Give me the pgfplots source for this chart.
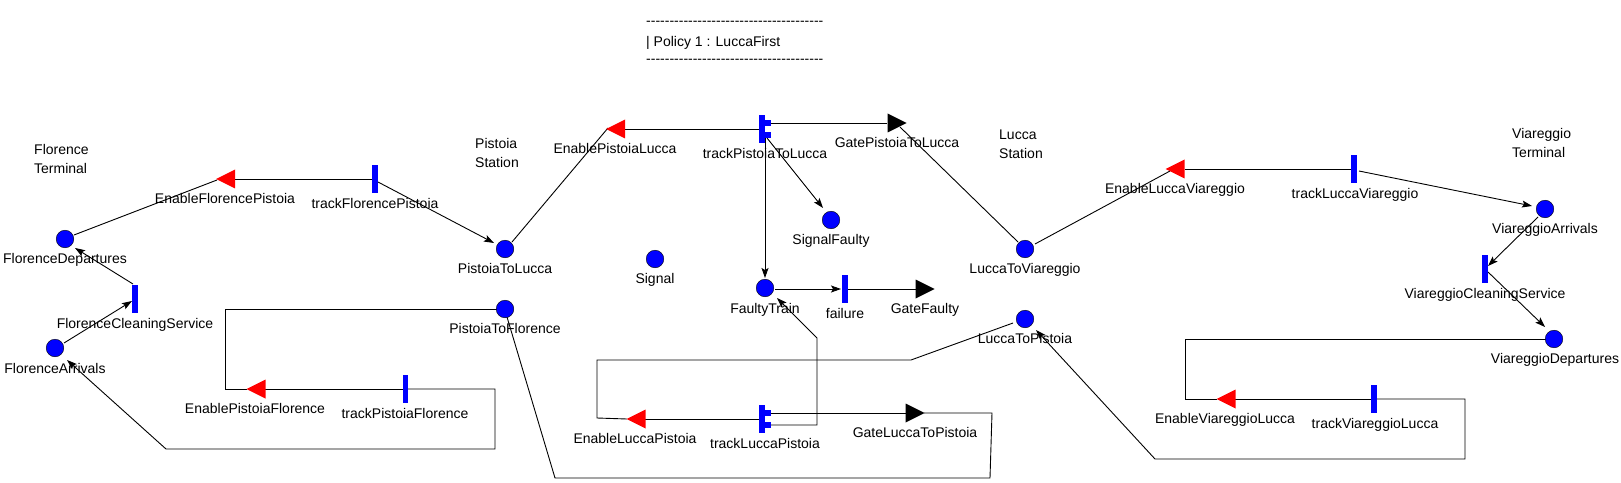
\documentclass[border=0pt]{standalone}
\usepackage{fontspec}
\setmainfont{Liberation Sans}
\usepackage{pgfplots}
\pgfplotsset{compat=1.18}
\usepackage{pgfplotstable}
\usetikzlibrary{arrows.meta}
\definecolor{pnblue}{RGB}{0,0,255}
\definecolor{pnred}{RGB}{255,0,0}
\pgfdeclareplotmark{tbar}{\pgfpathrectangle{\pgfpoint{-2.75bp}{-14bp}}{\pgfpoint{5.5bp}{28bp}}\pgfusepathqfill}
\pgfdeclareplotmark{ltri}{\pgfpathmoveto{\pgfpoint{-9.5bp}{0bp}}\pgfpathlineto{\pgfpoint{9.5bp}{9.5bp}}\pgfpathlineto{\pgfpoint{9.5bp}{-9.5bp}}\pgfpathclose\pgfusepathqfill}
\pgfdeclareplotmark{rtri}{\pgfpathmoveto{\pgfpoint{9.5bp}{0bp}}\pgfpathlineto{\pgfpoint{-9.5bp}{9.5bp}}\pgfpathlineto{\pgfpoint{-9.5bp}{-9.5bp}}\pgfpathclose\pgfusepathqfill}
\pgfdeclareplotmark{sqm}{\pgfpathrectangle{\pgfpoint{-2.6bp}{-2.6bp}}{\pgfpoint{5.2bp}{5.2bp}}\pgfusepathqfill}
\tikzset{
  lbl0/.style={font=\fontsize{14bp}{16bp}\selectfont, inner sep=0pt, anchor=mid west},
  lbl/.style={font=\fontsize{14bp}{16bp}\selectfont, inner sep=0pt, anchor=mid, yshift=-2.5bp},
  lblw/.style={lbl, anchor=mid west},
}
\newcommand\dashrule{\foreach \i in {1,...,38}{-\kern0pt}}

% places
\pgfplotstableread{
x y
65 239
55 348
505 249
505 309
655 259
831 220
765 288
1025 249
1025 319
1545 209
1554 339
}\places
% timed activities
\pgfplotstableread{
x y
375 179
135 299
405.6 389
762 129
845 289
762 419
1354 169
1485 269
1374 399
}\acts
\pgfplotstableread{
x y
768 123
768 135
768 413
768 425
}\squares
% input gates
\pgfplotstableread{
x y
225.5 179
615.5 129
256 389
636 419
1175 169
1226 399
}\igates
% output gates
\pgfplotstableread{
x y
897 123
925 289
915 413
}\ogates

\begin{document}
\begin{tikzpicture}
\begin{axis}[
  scale only axis, width=1621bp, height=483bp,
  xmin=0, xmax=1621, ymin=0, ymax=483, y dir=reverse,
  hide axis, clip=false,
  arc/.style={black, line width=0.9bp, mark=none, forget plot},
  arcA/.style={arc, -{Stealth[length=10bp,width=7bp,inset=2bp]}},
]
\addplot[draw=none, forget plot] coordinates {(0,0) (1621,483)};
% arcs
\addplot[arc] coordinates {(74,235) (217,180)};
\addplot[arc] coordinates {(235,179) (375,179)};
\addplot[arcA] coordinates {(378,182) (494,243)};
\addplot[arcA] coordinates {(64,343) (132,301)};
\addplot[arcA] coordinates {(133,284) (75,248)};
\addplot[arc] coordinates {(512,242) (608,128)};
\addplot[arc] coordinates {(625,129) (762,129)};
\addplot[arc] coordinates {(768,123) (887,123)};
\addplot[arc] coordinates {(900,127) (1018,242)};
\addplot[arcA] coordinates {(765,135) (765,278)};
\addplot[arcA] coordinates {(767,138) (823,208)};
\addplot[arcA] coordinates {(775,289) (841,289)};
\addplot[arc] coordinates {(845,289) (916,289)};
\addplot[arcA] coordinates {(768,425) (817,425) (817,338) (777,298)};
\addplot[arc] coordinates {(768,413) (906,413)};
\addplot[arc] coordinates {(924,413) (992,413) (990,478) (555,478) (507,317)};
\addplot[arc] coordinates {(1013,323) (911,360) (597,360) (597,418) (627,419)};
\addplot[arc] coordinates {(645,419) (762,419)};
\addplot[arc] coordinates {(505,309) (225.5,309) (225.5,389) (247,389)};
\addplot[arc] coordinates {(264.5,389) (405.6,389)};
\addplot[arcA] coordinates {(405.6,389) (495,389) (495,449) (166,449) (67,360)};
\addplot[arc] coordinates {(1035,244) (1170,171)};
\addplot[arc] coordinates {(1184.5,169) (1354,169)};
\addplot[arcA] coordinates {(1359,171) (1532,206)};
\addplot[arcA] coordinates {(1538,217) (1488,266)};
\addplot[arcA] coordinates {(1488,272) (1545,327)};
\addplot[arc] coordinates {(1554,339) (1185,339) (1185,399) (1217,399)};
\addplot[arc] coordinates {(1235,399) (1374,399)};
\addplot[arcA] coordinates {(1374,399) (1465,399) (1465,459) (1155,459) (1036,330)};
% nodes of the net
\addplot[only marks, mark=*, mark size=8.8bp, mark options={fill=pnblue, draw=none}] table {\places};
\addplot[only marks, mark=tbar, pnblue] table {\acts};
\addplot[only marks, mark=sqm, pnblue] table {\squares};
\addplot[only marks, mark=ltri, pnred] table {\igates};
\addplot[only marks, mark=rtri, black] table {\ogates};
% title
\node[lbl0] at (axis cs:646,23) {\dashrule};
\node[lblw] at (axis cs:646,41) {| Policy 1 : LuccaFirst};
\node[lbl0] at (axis cs:646,61) {\dashrule};
% region labels
\node[lblw] at (axis cs:34,149) {Florence};
\node[lblw] at (axis cs:34,168) {Terminal};
\node[lblw] at (axis cs:475,143) {Pistoia};
\node[lblw] at (axis cs:475,162) {Station};
\node[lblw] at (axis cs:999,134) {Lucca};
\node[lblw] at (axis cs:999,153) {Station};
\node[lblw] at (axis cs:1512,133) {Viareggio};
\node[lblw] at (axis cs:1512,152) {Terminal};
% element labels
\node[lbl] at (axis cs:65,258) {FlorenceDepartures};
\node[lbl] at (axis cs:55,368) {FlorenceArrivals};
\node[lbl] at (axis cs:135,323) {FlorenceCleaningService};
\node[lbl] at (axis cs:225,198) {EnableFlorencePistoia};
\node[lbl] at (axis cs:375,203) {trackFlorencePistoia};
\node[lbl] at (axis cs:505,268) {PistoiaToLucca};
\node[lbl] at (axis cs:505,328) {PistoiaToFlorence};
\node[lbl] at (axis cs:255,408) {EnablePistoiaFlorence};
\node[lbl] at (axis cs:405,413) {trackPistoiaFlorence};
\node[lbl] at (axis cs:615,148) {EnablePistoiaLucca};
\node[lbl] at (axis cs:765,153) {trackPistoiaToLucca};
\node[lbl] at (axis cs:897,142) {GatePistoiaToLucca};
\node[lbl] at (axis cs:831,239) {SignalFaulty};
\node[lbl] at (axis cs:655,278) {Signal};
\node[lbl] at (axis cs:765,308) {FaultyTrain};
\node[lbl] at (axis cs:845,313) {failure};
\node[lbl] at (axis cs:925,308) {GateFaulty};
\node[lbl] at (axis cs:1025,268) {LuccaToViareggio};
\node[lbl] at (axis cs:1025,338) {LuccaToPistoia};
\node[lbl] at (axis cs:635,438) {EnableLuccaPistoia};
\node[lbl] at (axis cs:765,443) {trackLuccaPistoia};
\node[lbl] at (axis cs:915,432) {GateLuccaToPistoia};
\node[lbl] at (axis cs:1175,188) {EnableLuccaViareggio};
\node[lbl] at (axis cs:1355,193) {trackLuccaViareggio};
\node[lbl] at (axis cs:1545,228) {ViareggioArrivals};
\node[lbl] at (axis cs:1485,293) {ViareggioCleaningService};
\node[lbl] at (axis cs:1555,358) {ViareggioDepartures};
\node[lbl] at (axis cs:1225,418) {EnableViareggioLucca};
\node[lbl] at (axis cs:1375,423) {trackViareggioLucca};
\end{axis}
\end{tikzpicture}
\end{document}
